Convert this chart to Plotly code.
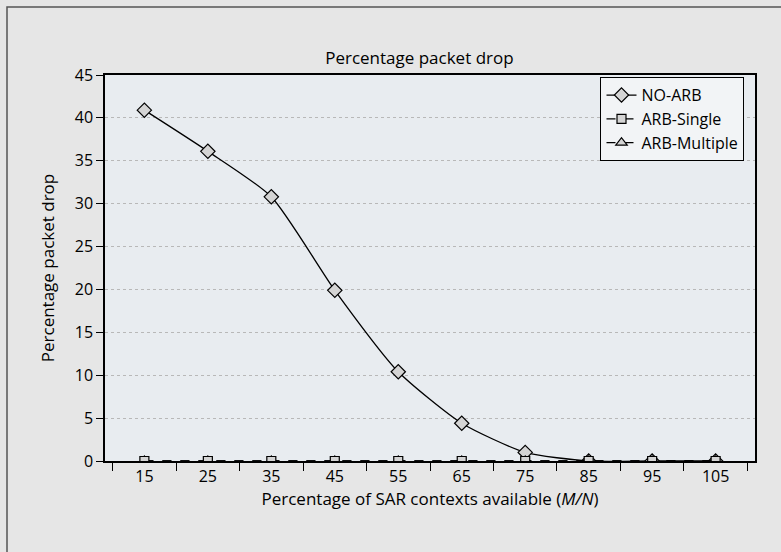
import plotly.graph_objects as go

categories = ["15", "25", "35", "45", "55", "65", "75", "85", "95", "105"]
no_arb = [40.9, 36.1, 30.8, 19.9, 10.4, 4.4, 1.0, 0.0, 0.0, 0.0]
arb_single = [0, 0, 0, 0, 0, 0, 0, 0, 0, 0]
arb_multiple = [0, 0, 0, 0, 0, 0, 0, 0, 0, 0]
y_ticks = [0, 5, 10, 15, 20, 25, 30, 35, 40, 45]

FONT = "Open Sans"
fig = go.Figure()
fig.add_trace(go.Scatter(
    x=categories, y=no_arb, name="NO-ARB", mode="lines+markers",
    line=dict(color="black", width=1.3, shape="spline", smoothing=0.6),
    marker=dict(symbol="diamond", size=11, color="#d4d4d4",
                line=dict(color="black", width=1.2)),
    legendrank=1))
fig.add_trace(go.Scatter(
    x=categories, y=arb_multiple, name="ARB-Multiple", mode="lines+markers",
    line=dict(color="black", width=1.3, dash="dash"),
    marker=dict(symbol="triangle-up", size=10, color="#d4d4d4",
                line=dict(color="black", width=1.2)),
    legendrank=3))
fig.add_trace(go.Scatter(
    x=categories, y=arb_single, name="ARB-Single", mode="lines+markers",
    line=dict(color="black", width=1.3, dash="dash"),
    marker=dict(symbol="square", size=9, color="#d4d4d4",
                line=dict(color="black", width=1.2)),
    legendrank=2))

fig.update_layout(
    width=781, height=552,
    paper_bgcolor="#e6e6e6", plot_bgcolor="#e8ecf0",
    margin=dict(l=105, r=26, t=75, b=91, autoexpand=False),
    font=dict(family=FONT, size=16, color="black"),
    title=dict(text="Percentage packet drop", x=0.537, xanchor="center",
               y=1 - 58 / 552, yanchor="middle", font=dict(size=17)),
    legend=dict(x=0.762, xanchor="left", y=0.995, yanchor="top",
                bgcolor="#f2f4f6", bordercolor="black", borderwidth=1.2,
                font=dict(size=16), tracegroupgap=0, itemwidth=30),
    showlegend=True,
    shapes=[dict(type="rect", xref="paper", yref="paper",
                 x0=-98 / 650, x1=1.2, y0=-0.3, y1=1 + 68 / 386,
                 line=dict(color="#555555", width=1.5), layer="below")],
)
fig.update_xaxes(
    type="category", tickson="boundaries", ticks="outside", ticklen=8,
    tickwidth=1.2, tickcolor="black", showline=True, linecolor="black",
    linewidth=1.5, mirror=True, showgrid=False, automargin=False,
    tickfont=dict(size=16),
    title=dict(text="Percentage of SAR contexts available (<i>M/N</i>)",
               font=dict(size=17), standoff=6))
fig.update_yaxes(
    range=[0, 45], tickvals=y_ticks, ticks="outside", ticklen=7,
    tickwidth=1.2, tickcolor="black", showline=True, linecolor="black",
    linewidth=1.5, mirror=True, showgrid=True, gridcolor="#b8b8b8",
    griddash="dot", gridwidth=1, zeroline=False, automargin=False,
    tickfont=dict(size=16),
    title=dict(text="Percentage packet drop", font=dict(size=17), standoff=16))

fig.write_html(
    "out.html",
    config={"responsive": False, "displayModeBar": False},
    post_script="document.body.style.margin='0';document.body.style.overflow='hidden';",
)
